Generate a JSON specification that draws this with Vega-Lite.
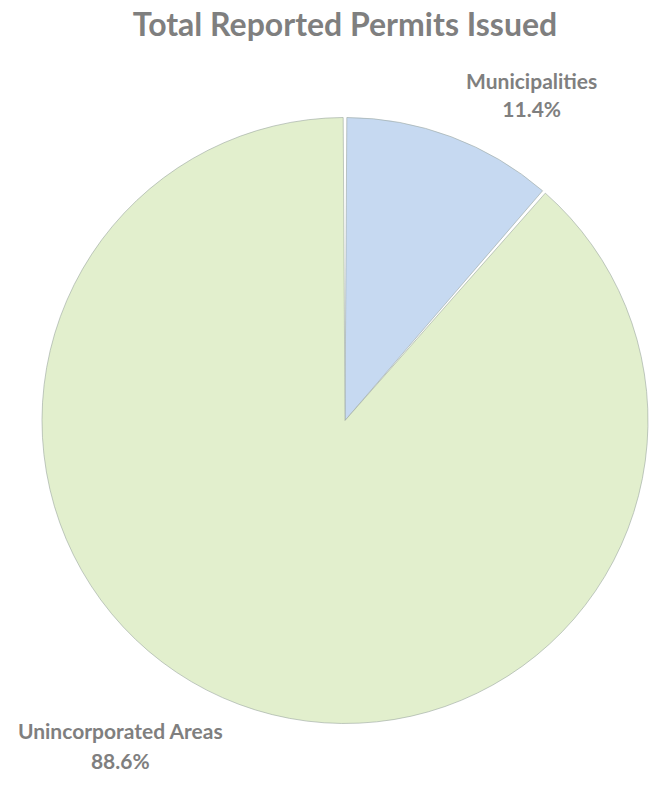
{
  "$schema": "https://vega.github.io/schema/vega-lite/v6.json",
  "width": 670,
  "height": 786,
  "autosize": {"type": "fit", "contains": "padding"},
  "padding": {"left": 20, "top": 10, "right": 0, "bottom": 0},
  "background": "#ffffff",
  "title": {
    "text": "Total Reported Permits Issued",
    "font": "Lato",
    "fontSize": 32,
    "fontWeight": "bold",
    "color": "#7f7f7f",
    "anchor": "middle",
    "offset": 12
  },
  "view": {"stroke": null},
  "data": {
    "values": [
      {"category": "Municipalities", "share": 11.4, "label": "11.4%"},
      {"category": "Unincorporated Areas", "share": 88.6, "label": "88.6%"}
    ]
  },
  "encoding": {
    "theta": {"field": "share", "type": "quantitative", "stack": true},
    "order": {"field": "share", "type": "quantitative", "sort": "ascending"}
  },
  "layer": [
    {
      "mark": {"type": "arc", "outerRadius": 303, "padAngle": 0.012, "stroke": "#9aa6a0", "strokeWidth": 0.6},
      "encoding": {
        "color": {
          "field": "category",
          "type": "nominal",
          "scale": {"domain": ["Municipalities", "Unincorporated Areas"], "range": ["#c6d9f1", "#e2efcd"]},
          "legend": null
        }
      }
    },
    {
      "mark": {"type": "text", "radius": 350, "dx": 64, "dy": -10, "font": "Lato", "fontSize": 21, "fontWeight": "bold", "color": "#7f7f7f", "lineHeight": 28, "align": "center", "baseline": "middle"},
      "encoding": {
        "text": {
          "condition": {"test": "datum.category === 'Municipalities'", "value": ["Municipalities", "11.4%"]},
          "value": ""
        }
      }
    },
    {
      "mark": {"type": "text", "radius": 350, "dx": -102, "dy": -15, "font": "Lato", "fontSize": 21, "fontWeight": "bold", "color": "#7f7f7f", "lineHeight": 30, "align": "center", "baseline": "middle"},
      "encoding": {
        "text": {
          "condition": {"test": "datum.category === 'Unincorporated Areas'", "value": ["Unincorporated Areas", "88.6%"]},
          "value": ""
        }
      }
    }
  ]
}
